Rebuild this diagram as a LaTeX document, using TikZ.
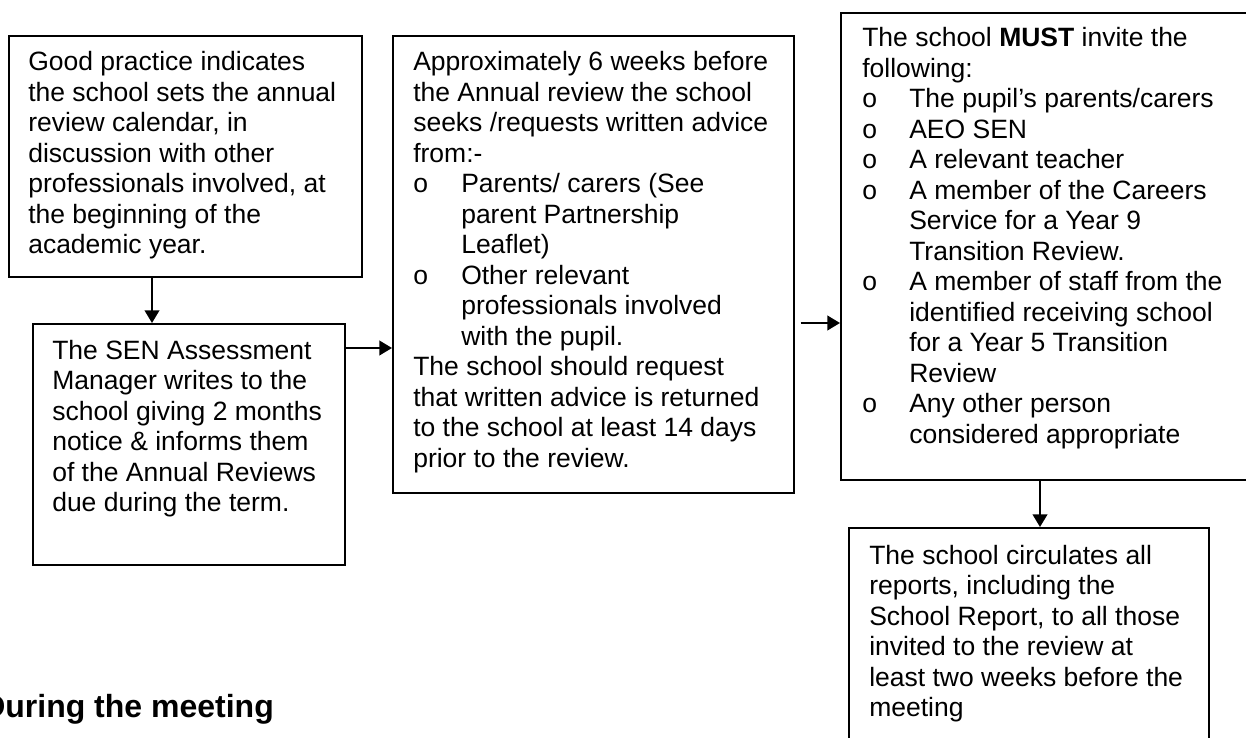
\documentclass[tikz,border=0pt]{standalone}
\usepackage{fontspec}
\setmainfont{Liberation Sans}
\usetikzlibrary{arrows.meta}
\newcommand\bitem[2][36pt]{\makebox[#1][l]{o}#2}
\newcommand\bcont[2][36pt]{\hspace*{#1}#2}
\tikzset{
  box/.style={draw, line width=1.2pt, inner sep=0pt, anchor=north west},
  txt/.style={inner sep=0pt, anchor=base west, font=\fontsize{19.875pt}{22.875pt}\selectfont},
  arr/.style={line width=1.5pt, -{Triangle[length=9.5pt,width=11pt]}},
}
\begin{document}
\begin{tikzpicture}[x=0.75pt,y=-0.75pt]
\useasboundingbox (0,0) rectangle (1246,738);
\clip (0,0) rectangle (1246,738);
% boxes
\node[box, minimum width=264.75pt, minimum height=180.75pt] (b1) at (8,35) {};
\node[box, minimum width=234pt, minimum height=180.75pt] (b2) at (32,323) {};
\node[box, minimum width=300.75pt, minimum height=342.75pt] (b3) at (392,35) {};
\node[box, minimum width=307.5pt, minimum height=350.25pt] (b4) at (840,12) {};
\node[box, minimum width=270pt, minimum height=180pt] (b5) at (848,527) {};
% texts
\node[txt] (t1) at (28,71) {\parbox[t]{300pt}{\raggedright
Good practice indicates\\
the school sets the annual\\
review calendar, in\\
discussion with other\\
professionals involved, at\\
the beginning of the\\
academic year.}};
\node[txt] (t2) at (52,359) {\parbox[t]{300pt}{\raggedright
The SEN Assessment\\
Manager writes to the\\
school giving 2 months\\
notice \& informs them\\
of the Annual Reviews\\
due during the term.}};
\node[txt] (t3) at (413,71) {\parbox[t]{330pt}{\raggedright
Approximately 6 weeks before\\
the Annual review the school\\
seeks /requests written advice\\
from:-\\
\bitem{Parents/ carers (See}\\
\bcont{parent Partnership}\\
\bcont{Leaflet)}\\
\bitem{Other relevant}\\
\bcont{professionals involved}\\
\bcont{with the pupil.}\\
The school should request\\
that written advice is returned\\
to the school at least 14 days\\
prior to the review.}};
\node[txt] (t4) at (862,47) {\parbox[t]{330pt}{\raggedright
The school \textbf{MUST} invite the\\
following:\\
\bitem[35.25pt]{The pupil’s parents/carers}\\
\bitem[35.25pt]{AEO SEN}\\
\bitem[35.25pt]{A relevant teacher}\\
\bitem[35.25pt]{A member of the Careers}\\
\bcont[35.25pt]{Service for a Year 9}\\
\bcont[35.25pt]{Transition Review.}\\
\bitem[35.25pt]{A member of staff from the}\\
\bcont[35.25pt]{identified receiving school}\\
\bcont[35.25pt]{for a Year 5 Transition}\\
\bcont[35.25pt]{Review}\\
\bitem[35.25pt]{Any other person}\\
\bcont[35.25pt]{considered appropriate}}};
\node[txt] (t5) at (869,564) {\parbox[t]{300pt}{\raggedright
The school circulates all\\
reports, including the\\
School Report, to all those\\
invited to the review at\\
least two weeks before the\\
meeting}};
\node[inner sep=0pt, anchor=base west, font=\bfseries\fontsize{24pt}{28pt}\selectfont] (head) at (-18,717) {During the meeting};
% connectors
\draw[arr] ([shift={(144,0)}]b1.south west) -- ([shift={(120,0)}]b2.north west);
\draw[arr] ([shift={(0,25)}]b2.north east) -- ([shift={(0,313)}]b3.north west);
\draw[arr] ([shift={(6,288)}]b3.north east) -- ([shift={(0,311)}]b4.north west);
\draw[arr] ([shift={(200,0)}]b4.south west) -- ([shift={(192,0)}]b5.north west);
\end{tikzpicture}
\end{document}
